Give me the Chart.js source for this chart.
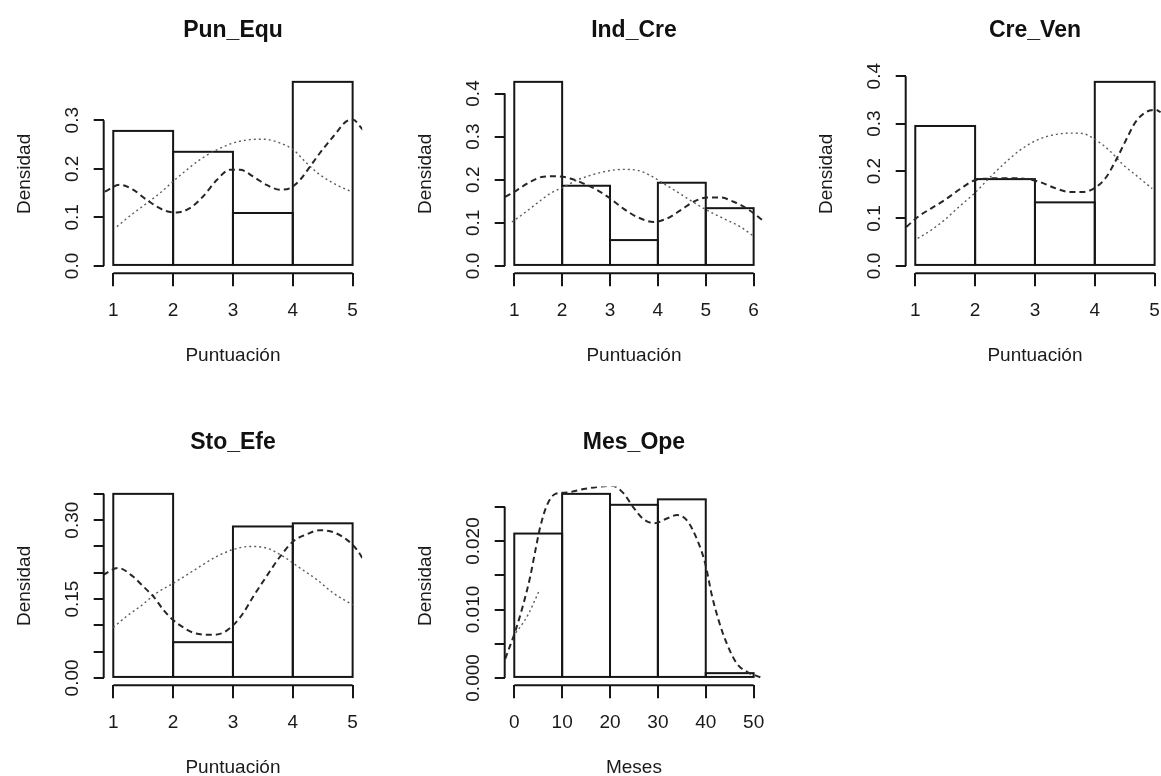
<!DOCTYPE html>
<html>
<head>
<meta charset="utf-8">
<script src="https://cdn.jsdelivr.net/npm/chart.js@4.4.1/dist/chart.umd.min.js"></script>
<style>
  html, body { margin: 0; padding: 0; background: #fff; width: 1161px; height: 776px; overflow: hidden; }
  canvas { position: absolute; }
</style>
</head>
<body>
<canvas id="pun" width="466" height="412" style="left:0px;top:0px"></canvas>
<canvas id="ind" width="466" height="412" style="left:401px;top:0px"></canvas>
<canvas id="cre" width="466" height="412" style="left:802px;top:0px"></canvas>
<canvas id="sto" width="466" height="412" style="left:0px;top:412px"></canvas>
<canvas id="mes" width="466" height="412" style="left:401px;top:412px"></canvas>
<script>
// ---- data ----
const punBreaks = [1, 2, 3, 4, 5];
const punDensity = [0.278, 0.235, 0.109, 0.379];
const punKernel = [[0.86,0.153],[1.11,0.167],[1.33,0.157],[1.56,0.136],[1.84,0.115],[2.06,0.110],[2.28,0.119],[2.50,0.143],[2.73,0.177],[2.95,0.198],[3.12,0.198],[3.34,0.184],[3.56,0.167],[3.79,0.157],[3.95,0.160],[4.12,0.177],[4.29,0.205],[4.45,0.232],[4.68,0.267],[4.90,0.298],[5.01,0.301],[5.12,0.288],[5.21,0.274]];
const punNormal = [[1.06,0.081],[1.33,0.108],[1.56,0.129],[1.78,0.150],[2.00,0.174],[2.23,0.198],[2.45,0.219],[2.73,0.239],[3.00,0.253],[3.28,0.260],[3.51,0.261],[3.79,0.253],[4.01,0.239],[4.23,0.212],[4.45,0.188],[4.73,0.167],[4.98,0.153]];
const punYTicks = [0, 0.1, 0.2, 0.3];
const punYLabels = ["0.0", "0.1", "0.2", "0.3"];

const indBreaks = [1, 2, 3, 4, 5, 6];
const indDensity = [0.427, 0.186, 0.060, 0.193, 0.134];
const indKernel = [[0.81,0.160],[1.06,0.176],[1.33,0.195],[1.61,0.207],[1.89,0.208],[2.17,0.203],[2.45,0.191],[2.73,0.176],[3.01,0.156],[3.28,0.133],[3.56,0.114],[3.91,0.102],[4.19,0.110],[4.47,0.129],[4.75,0.149],[5.03,0.159],[5.30,0.159],[5.58,0.149],[5.86,0.133],[6.28,0.098]];
const indNormal = [[0.95,0.102],[1.19,0.121],[1.47,0.145],[1.75,0.168],[2.03,0.183],[2.31,0.199],[2.59,0.210],[2.94,0.220],[3.28,0.224],[3.56,0.222],[3.84,0.210],[4.12,0.191],[4.40,0.172],[4.68,0.152],[5.03,0.129],[5.37,0.110],[5.72,0.091],[6.00,0.069]];
const indYTicks = [0, 0.1, 0.2, 0.3, 0.4];
const indYLabels = ["0.0", "0.1", "0.2", "0.3", "0.4"];

const creBreaks = [1, 2, 3, 4, 5];
const creDensity = [0.295, 0.183, 0.134, 0.388];
const creKernel = [[0.85,0.082],[1.04,0.103],[1.26,0.121],[1.48,0.138],[1.76,0.163],[1.98,0.180],[2.20,0.184],[2.48,0.185],[2.81,0.184],[3.08,0.177],[3.36,0.163],[3.58,0.156],[3.80,0.156],[4.02,0.166],[4.19,0.187],[4.35,0.222],[4.52,0.265],[4.68,0.303],[4.85,0.324],[5.02,0.329],[5.10,0.324]];
const creNormal = [[1.04,0.058],[1.26,0.075],[1.48,0.096],[1.76,0.128],[1.98,0.152],[2.25,0.187],[2.48,0.215],[2.75,0.244],[3.03,0.265],[3.30,0.276],[3.58,0.280],[3.80,0.279],[4.02,0.265],[4.24,0.244],[4.46,0.215],[4.69,0.191],[4.96,0.163]];
const creYTicks = [0, 0.1, 0.2, 0.3, 0.4];
const creYLabels = ["0.0", "0.1", "0.2", "0.3", "0.4"];

const stoBreaks = [1, 2, 3, 4, 5];
const stoDensity = [0.350, 0.068, 0.288, 0.294];
const stoKernel = [[0.83,0.196],[1.08,0.209],[1.33,0.193],[1.50,0.174],[1.67,0.155],[1.84,0.129],[2.00,0.110],[2.17,0.096],[2.34,0.086],[2.62,0.082],[2.84,0.086],[3.01,0.101],[3.17,0.123],[3.34,0.155],[3.56,0.193],[3.79,0.231],[4.01,0.260],[4.23,0.273],[4.45,0.281],[4.68,0.277],[4.90,0.263],[5.07,0.244],[5.18,0.225]];
const stoNormal = [[1.00,0.096],[1.22,0.117],[1.45,0.136],[1.72,0.161],[2.00,0.180],[2.23,0.196],[2.45,0.212],[2.73,0.231],[3.00,0.244],[3.28,0.250],[3.56,0.247],[3.84,0.231],[4.12,0.209],[4.40,0.187],[4.68,0.161],[5.00,0.139]];
const stoYTicks = [0, 0.05, 0.10, 0.15, 0.20, 0.25, 0.30, 0.35];
const stoYLabels = ["0.00", "", "", "0.15", "", "", "0.30", ""];

const mesBreaks = [0, 10, 20, 30, 40, 50];
const mesDensity = [0.0211, 0.0269, 0.0253, 0.0261, 0.0007];
const mesKernel = [[-1.9,0.0028],[0.2,0.0068],[1.9,0.0108],[3.3,0.0147],[4.4,0.0186],[5.4,0.0220],[6.8,0.0252],[8.6,0.0269],[11.0,0.0271],[14.5,0.0276],[17.3,0.0279],[20.4,0.0281],[22.8,0.0270],[25.0,0.0248],[27.0,0.0232],[29.3,0.0226],[31.9,0.0233],[34.0,0.0238],[36.2,0.0229],[38.2,0.0202],[39.9,0.0167],[41.3,0.0120],[42.7,0.0084],[44.4,0.0050],[46.5,0.0021],[48.6,0.0009],[51.4,0.0001]];
const mesNormal = [[0.3,0.0066],[1.3,0.0075],[3.0,0.0094],[4.2,0.0112],[5.1,0.0126]];
const mesYTicks = [0, 0.005, 0.010, 0.015, 0.020, 0.025];
const mesYLabels = ["0.000", "", "0.010", "", "0.020", ""];

const yTitle = "Densidad";
const INK = "#161616";

Chart.defaults.font.family = '"Liberation Sans", Arial, Helvetica, sans-serif';
Chart.defaults.font.size = 19;
Chart.defaults.color = "#1a1a1a";

// R-style axis lines (first tick to last tick) and histogram outlines
const rStyle = {
  id: "rStyle",
  afterDatasetDraw(chart, args) {
    if (args.meta.type !== "bar") return;
    const ctx = chart.ctx;
    ctx.save();
    ctx.strokeStyle = INK;
    ctx.lineWidth = 2;
    args.meta.data.forEach(el => {
      const p = el.getProps(["x", "y", "base", "width"], true);
      ctx.strokeRect(p.x - p.width / 2, p.y, p.width, p.base - p.y);
    });
    ctx.restore();
  },
  afterDraw(chart) {
    const {ctx, chartArea: a, scales: {x, y}} = chart;
    ctx.save();
    ctx.strokeStyle = INK;
    ctx.lineWidth = 2;
    ctx.beginPath();
    ctx.moveTo(a.left, y.getPixelForValue(y.ticks[0].value));
    ctx.lineTo(a.left, y.getPixelForValue(y.ticks[y.ticks.length - 1].value));
    ctx.moveTo(x.getPixelForValue(x.ticks[0].value), a.bottom);
    ctx.lineTo(x.getPixelForValue(x.ticks[x.ticks.length - 1].value), a.bottom);
    ctx.stroke();
    ctx.restore();
  }
};

function histPanel(id, title, xTitle, breaks, density, kernel, normal, yTicks, yLabels, yPad) {
  const centers = density.map((d, i) => ({x: (breaks[i] + breaks[i + 1]) / 2, y: d}));
  const x0 = breaks[0], x1 = breaks[breaks.length - 1];
  const top = Math.max(...density);
  new Chart(document.getElementById(id), {
    type: "bar",
    data: {
      datasets: [
        {
          type: "line", data: kernel.map(p => ({x: p[0], y: p[1]})),
          borderColor: "#262626", borderWidth: 2, borderDash: [6, 4],
          pointRadius: 0, cubicInterpolationMode: "monotone", fill: false, order: 0
        },
        {
          type: "line", data: normal.map(p => ({x: p[0], y: p[1]})),
          borderColor: "#5c5c5c", borderWidth: 1.4, borderDash: [2, 3],
          pointRadius: 0, cubicInterpolationMode: "monotone", fill: false, order: 1
        },
        {
          type: "bar", data: centers,
          backgroundColor: "rgba(0,0,0,0)", borderWidth: 0,
          barPercentage: 1, categoryPercentage: 1, order: 2
        }
      ]
    },
    options: {
      responsive: false,
      devicePixelRatio: 1,
      animation: false,
      layout: { padding: 0 },
      plugins: {
        legend: { display: false },
        tooltip: { enabled: false },
        title: {
          display: true, text: title,
          font: { size: 23, weight: "bold" }, color: "#111",
          padding: { top: 17.2, bottom: 29.7 }
        }
      },
      scales: {
        x: {
          type: "linear", offset: false,
          min: x0 - 0.04 * (x1 - x0), max: x1 + 0.04 * (x1 - x0),
          afterBuildTicks: s => { s.ticks = breaks.map(v => ({value: v})); },
          afterFit: s => { s.height = 412 - 273.3; },
          border: { display: false },
          grid: { offset: false, drawOnChartArea: false, drawTicks: true, tickLength: 13, color: INK, lineWidth: 2 },
          ticks: { autoSkip: false, maxRotation: 0, padding: 12.8, callback: v => String(v) },
          title: { display: true, text: xTitle, padding: { top: 0, bottom: 44.6 } }
        },
        y: {
          min: -0.04 * top, max: 1.04 * top,
          afterBuildTicks: s => { s.ticks = yTicks.map(v => ({value: v})); },
          afterFit: s => { s.width = 103.7; },
          border: { display: false },
          grid: { drawOnChartArea: false, drawTicks: true, tickLength: 10, color: INK, lineWidth: 2 },
          ticks: { autoSkip: false, minRotation: 90, maxRotation: 90, crossAlign: "center", padding: yPad,
                   callback: (v, i) => yLabels[i] },
          title: { display: true, text: yTitle, padding: { top: 13.6, bottom: 13.6 } }
        },
        // empty right margin so the title centres over the plot
        yRight: {
          position: "right", display: true,
          afterFit: s => { s.width = 103.8; },
          border: { display: false },
          grid: { display: false },
          ticks: { display: false }
        }
      }
    },
    plugins: [rStyle]
  });
}

histPanel("pun", "Pun_Equ", "Puntuación", punBreaks, punDensity, punKernel, punNormal, punYTicks, punYLabels, 7.8);
histPanel("ind", "Ind_Cre", "Puntuación", indBreaks, indDensity, indKernel, indNormal, indYTicks, indYLabels, 7.8);
histPanel("cre", "Cre_Ven", "Puntuación", creBreaks, creDensity, creKernel, creNormal, creYTicks, creYLabels, 7.8);
histPanel("sto", "Sto_Efe", "Puntuación", stoBreaks, stoDensity, stoKernel, stoNormal, stoYTicks, stoYLabels, 2.5);
histPanel("mes", "Mes_Ope", "Meses", mesBreaks, mesDensity, mesKernel, mesNormal, mesYTicks, mesYLabels, -2.7);
</script>
</body>
</html>
